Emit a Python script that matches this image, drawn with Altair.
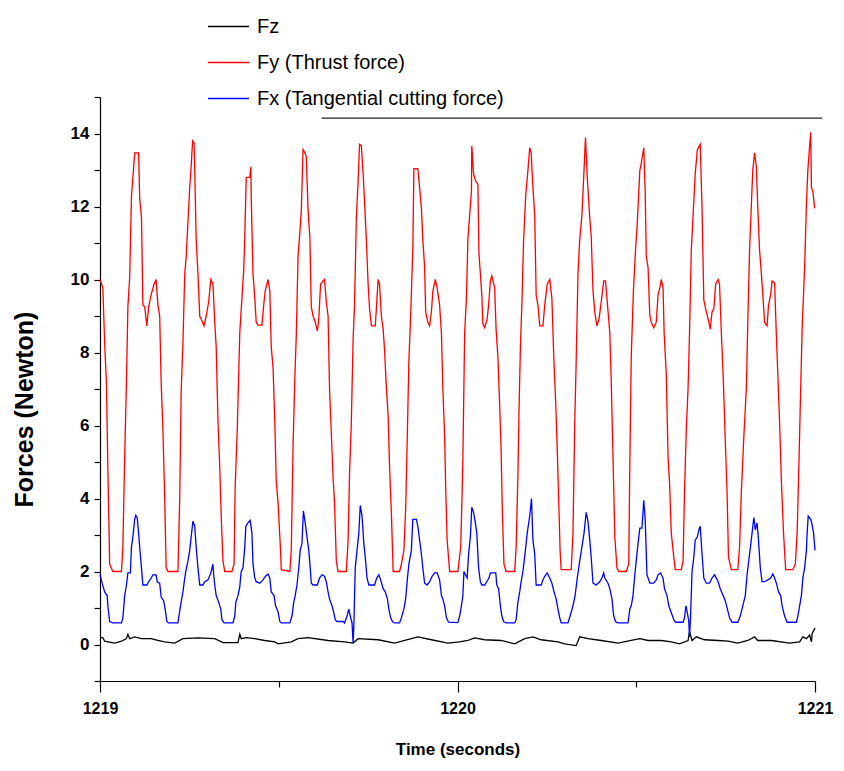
import altair as alt
import pandas as pd

# ---- data (time in ms after 1219 s, force in Newton) ----
FZ_MS = [0, 8, 13, 41, 60, 74, 78, 83, 97, 116, 143, 162, 181, 209, 232, 274, 321, 344, 386, 391, 395, 409,
         433, 461, 489, 498, 535, 554, 582, 638, 684, 708, 722, 778, 824, 871, 889, 927, 973, 1006, 1029, 1048,
         1076, 1122, 1160, 1188, 1211, 1234, 1281, 1300, 1332, 1342, 1365, 1402, 1449, 1486, 1510, 1533, 1570,
         1598, 1621, 1645, 1649, 1656, 1668, 1691, 1729, 1757, 1784, 1812, 1831, 1840, 1878, 1929, 1957, 1966,
         1976, 1985, 1990, 1992, 2000]
FZ_N = [0.19, 0.19, 0.09, 0.04, 0.09, 0.16, 0.28, 0.16, 0.21, 0.16, 0.16, 0.11, 0.07, 0.04, 0.16, 0.18, 0.16,
        0.05, 0.05, 0.28, 0.16, 0.19, 0.16, 0.11, 0.07, 0.02, 0.07, 0.16, 0.19, 0.11, 0.07, 0.04, 0.16, 0.13,
        0.04, 0.16, 0.21, 0.13, 0.04, 0.07, 0.11, 0.18, 0.13, 0.11, 0.02, 0.16, 0.21, 0.13, 0.07, 0.02, -0.03,
        0.21, 0.16, 0.11, 0.04, 0.11, 0.16, 0.11, 0.11, 0.07, 0.02, 0.11, 0.35, 0.11, 0.21, 0.13, 0.11, 0.09,
        0.04, 0.11, 0.21, 0.11, 0.11, 0.04, 0.07, 0.21, 0.16, 0.26, 0.07, 0.30, 0.45]

FY_MS = [0, 8, 13, 18, 22, 27, 36, 60, 64, 69, 74, 78, 83, 88, 92, 97, 108, 111, 116, 120, 125, 131, 136, 143,
         151, 157, 162, 167, 171, 176, 181, 185, 190, 218, 223, 227, 232, 237, 241, 246, 251, 255, 259, 263,
         265, 269, 274, 279, 285, 291, 297, 304, 310, 316, 321, 325, 330, 335, 339, 344, 349, 369, 375, 378,
         384, 391, 397, 402, 405, 409, 419, 422, 423, 428, 433, 437, 442, 453, 458, 462, 470, 475, 479, 484,
         489, 493, 498, 505, 507, 531, 535, 540, 545, 549, 554, 559, 563, 568, 573, 577, 582, 587, 591, 596,
         602, 608, 612, 617, 624, 628, 633, 638, 642, 647, 652, 656, 661, 666, 689, 694, 698, 703, 708, 712,
         717, 722, 726, 731, 736, 740, 745, 750, 754, 759, 770, 773, 778, 782, 787, 792, 796, 801, 806, 810,
         815, 820, 838, 843, 850, 855, 860, 864, 869, 873, 875, 878, 889, 894, 899, 903, 908, 911, 917, 922,
         927, 931, 938, 943, 950, 955, 959, 964, 967, 971, 978, 1001, 1009, 1013, 1015, 1020, 1025, 1029,
         1034, 1039, 1040, 1045, 1050, 1057, 1060, 1064, 1068, 1071, 1076, 1083, 1087, 1092, 1096, 1104,
         1108, 1113, 1118, 1122, 1125, 1130, 1136, 1160, 1164, 1169, 1172, 1176, 1180, 1185, 1191, 1197,
         1202, 1206, 1211, 1216, 1220, 1225, 1230, 1239, 1244, 1251, 1258, 1264, 1270, 1275, 1279, 1283,
         1287, 1290, 1318, 1323, 1328, 1332, 1337, 1342, 1348, 1353, 1358, 1363, 1370, 1374, 1379, 1384,
         1390, 1396, 1402, 1409, 1414, 1418, 1426, 1430, 1435, 1440, 1446, 1451, 1472, 1479, 1482, 1486,
         1492, 1498, 1503, 1510, 1514, 1521, 1525, 1528, 1533, 1538, 1542, 1549, 1556, 1561, 1566, 1570,
         1575, 1578, 1584, 1589, 1593, 1598, 1605, 1609, 1626, 1631, 1635, 1640, 1645, 1649, 1654, 1659,
         1665, 1671, 1679, 1684, 1689, 1694, 1701, 1707, 1712, 1717, 1722, 1729, 1733, 1738, 1743, 1749,
         1754, 1758, 1766, 1784, 1789, 1794, 1801, 1808, 1812, 1817, 1822, 1826, 1831, 1836, 1840, 1845,
         1850, 1854, 1859, 1866, 1870, 1876, 1880, 1887, 1892, 1896, 1901, 1906, 1912, 1918, 1938, 1945,
         1950, 1955, 1960, 1964, 1971, 1976, 1980, 1985, 1988, 1990, 1994, 1999]
FY_N = [10.0, 9.77, 8.26, 7.17, 4.8, 2.2, 2.0, 2.0, 2.67, 5.13, 7.2, 9.25, 10.06, 12.28, 12.8, 13.47, 13.47,
        12.23, 11.7, 9.3, 9.25, 8.73, 9.25, 9.58, 9.87, 10.0, 9.3, 9.0, 7.2, 5.9, 4.0, 2.1, 2.0, 2.0, 4.0, 6.93,
        8.26, 10.15, 10.62, 11.57, 12.52, 13.09, 13.8, 13.75, 13.0, 11.1, 10.15, 9.0, 8.87, 8.73, 9.0, 9.39,
        10.0, 9.87, 8.83, 8.16, 6.13, 4.85, 3.52, 2.29, 2.0, 2.0, 2.2, 4.28, 5.9, 8.54, 9.49, 10.25, 11.19,
        12.8, 12.8, 13.09, 12.23, 10.15, 9.49, 8.83, 8.75, 8.75, 9.3, 9.68, 10.0, 9.68, 8.16, 7.6, 6.08, 4.47,
        3.9, 2.58, 2.05, 2.0, 2.58, 5.42, 7.31, 8.45, 10.63, 11.29, 11.86, 13.56, 13.47, 13.37, 11.9, 11.15,
        9.25, 9.0, 8.83, 8.59, 8.92, 9.87, 9.96, 10.0, 9.39, 9.0, 7.03, 5.8, 4.56, 3.9, 2.29, 2.0, 2.0, 2.86,
        4.66, 6.08, 8.35, 9.3, 11.67, 12.7, 13.7, 13.66, 12.9, 12.14, 11.1, 9.87, 9.2, 8.73, 8.73, 9.2, 10.0,
        9.87, 9.0, 8.64, 8.07, 7.03, 6.27, 4.85, 3.62, 2.0, 2.0, 2.2, 2.58, 3.71, 5.89, 7.78, 9.0, 10.25,
        10.81, 13.04, 13.04, 12.52, 11.95, 11.1, 10.34, 9.11, 8.83, 8.73, 9.11, 9.68, 10.0, 9.77, 9.3, 8.54,
        7.03, 5.7, 4.28, 2.86, 2.0, 2.0, 2.67, 4.19, 5.04, 8.54, 9.49, 11.1, 11.76, 12.42, 13.66, 12.9, 12.71,
        12.61, 10.72, 10.15, 9.58, 8.78, 8.68, 8.92, 9.3, 9.96, 10.1, 9.77, 8.64, 7.88, 6.55, 5.32, 3.81, 2.2,
        2.0, 2.0, 2.67, 4.66, 6.36, 8.16, 9.3, 11.1, 12.33, 12.99, 13.61, 13.47, 12.52, 11.76, 9.58, 9.3,
        8.73, 8.73, 9.3, 9.87, 10.0, 9.49, 7.69, 6.55, 5.32, 4.0, 2.58, 2.05, 2.05, 3.05, 6.08, 7.78, 10.15,
        11.1, 11.76, 12.8, 13.89, 12.8, 11.67, 11.19, 9.68, 9.11, 8.73, 8.92, 9.39, 9.96, 9.96, 9.49, 8.54,
        7.22, 5.13, 2.95, 2.1, 2.0, 2.0, 2.2, 4.94, 7.88, 9.68, 10.81, 11.57, 12.99, 13.18, 13.61, 12.42,
        10.63, 10.34, 9.0, 8.83, 8.68, 8.83, 9.58, 9.77, 10.0, 9.77, 8.54, 7.4, 5.13, 4.47, 3.05, 2.39, 2.05,
        2.05, 2.29, 4.19, 5.89, 7.03, 8.54, 10.81, 11.76, 12.9, 13.56, 13.7, 11.95, 9.44, 9.2, 8.92, 8.64,
        9.11, 9.2, 9.87, 10.0, 9.87, 8.54, 7.4, 5.6, 4.19, 2.39, 2.05, 2.05, 2.67, 4.19, 5.7, 7.03, 8.83,
        10.81, 12.05, 12.99, 13.47, 13.09, 11.95, 10.81, 10.15, 9.58, 8.83, 8.73, 9.3, 9.58, 9.96, 9.91,
        8.45, 7.4, 6.08, 4.47, 3.05, 2.05, 2.05, 2.2, 3.05, 4.94, 7.03, 8.64, 10.34, 12.05, 12.99, 13.66,
        14.03, 12.52, 12.42, 11.95]

FX_MS = [0, 6, 13, 20, 22, 27, 36, 60, 64, 69, 74, 78, 85, 88, 92, 97, 100, 104, 108, 111, 116, 120, 131, 136,
         143, 148, 157, 160, 167, 171, 178, 183, 187, 192, 218, 223, 227, 232, 237, 241, 246, 251, 255, 260,
         265, 269, 274, 279, 288, 293, 302, 310, 316, 318, 321, 325, 332, 338, 341, 347, 372, 377, 380, 386,
         391, 395, 400, 405, 408, 414, 420, 425, 428, 433, 437, 447, 456, 463, 470, 475, 479, 487, 491, 498,
         503, 507, 531, 537, 542, 546, 551, 556, 560, 565, 569, 574, 579, 584, 588, 591, 596, 608, 614, 621,
         628, 633, 638, 642, 649, 654, 658, 663, 680, 684, 691, 696, 700, 705, 708, 710, 714, 719, 724, 728,
         733, 738, 742, 747, 752, 768, 774, 780, 785, 792, 798, 804, 808, 813, 818, 824, 838, 843, 850, 855,
         860, 864, 871, 875, 885, 889, 894, 899, 903, 908, 915, 922, 929, 936, 943, 950, 955, 959, 964, 969,
         975, 1001, 1006, 1011, 1015, 1018, 1022, 1027, 1031, 1036, 1040, 1045, 1050, 1054, 1059, 1064, 1068,
         1076, 1082, 1088, 1092, 1107, 1110, 1115, 1120, 1124, 1129, 1136, 1160, 1164, 1169, 1174, 1178,
         1183, 1190, 1195, 1202, 1207, 1211, 1216, 1220, 1234, 1239, 1244, 1251, 1258, 1264, 1270, 1276,
         1281, 1286, 1290, 1309, 1315, 1323, 1329, 1335, 1342, 1348, 1354, 1360, 1365, 1370, 1374, 1379,
         1388, 1398, 1404, 1409, 1412, 1421, 1426, 1432, 1437, 1442, 1449, 1477, 1482, 1486, 1491, 1496,
         1500, 1505, 1510, 1516, 1521, 1525, 1530, 1538, 1549, 1556, 1561, 1568, 1575, 1579, 1586, 1591,
         1598, 1605, 1610, 1631, 1635, 1639, 1643, 1647, 1649, 1652, 1656, 1661, 1665, 1671, 1675, 1679,
         1684, 1689, 1696, 1705, 1712, 1719, 1724, 1729, 1735, 1743, 1749, 1755, 1761, 1768, 1784, 1791,
         1798, 1805, 1810, 1817, 1824, 1826, 1829, 1833, 1838, 1842, 1847, 1852, 1859, 1868, 1876, 1882,
         1887, 1892, 1898, 1904, 1908, 1915, 1922, 1948, 1952, 1957, 1962, 1966, 1971, 1976, 1978, 1981,
         1988, 1991, 1996, 2000]
FX_N = [1.91, 1.68, 1.44, 1.34, 1.06, 0.63, 0.59, 0.59, 0.73, 1.34, 1.63, 1.96, 1.96, 2.67, 2.95, 3.43, 3.54,
        3.48, 3.05, 2.67, 2.1, 1.63, 1.63, 1.72, 1.82, 1.91, 1.91, 1.72, 1.68, 1.3, 1.2, 0.92, 0.63, 0.59,
        0.59, 0.92, 1.16, 1.44, 1.82, 2.05, 2.29, 2.58, 2.95, 3.38, 3.24, 2.67, 2.1, 1.63, 1.63, 1.72, 1.77,
        1.96, 2.2, 1.91, 1.63, 1.34, 1.16, 0.97, 0.68, 0.59, 0.59, 0.78, 1.16, 1.34, 1.58, 2.0, 2.1, 2.67,
        3.24, 3.33, 3.4, 3.05, 2.2, 1.82, 1.72, 1.68, 1.77, 1.87, 1.93, 1.82, 1.44, 1.34, 1.06, 0.9, 0.63,
        0.59, 0.59, 0.78, 1.16, 1.34, 1.63, 2.1, 2.58, 2.77, 3.66, 3.33, 2.95, 2.58, 2.1, 1.68, 1.63, 1.63,
        1.82, 1.91, 1.87, 1.72, 1.44, 1.25, 1.06, 0.87, 0.68, 0.63, 0.63, 0.59, 0.78, 0.97, 0.78, 0.59, 0.04,
        0.49, 2.1, 2.58, 3.05, 3.81, 3.52, 2.77, 2.39, 1.82, 1.63, 1.63, 1.82, 1.91, 1.77, 1.53, 1.44, 1.25,
        0.97, 0.73, 0.63, 0.59, 0.59, 0.73, 0.97, 1.25, 1.82, 2.2, 2.58, 3.43, 3.43, 3.24, 2.86, 2.48, 2.1,
        1.68, 1.63, 1.72, 1.87, 1.96, 1.96, 1.77, 1.34, 1.25, 1.06, 0.73, 0.61, 0.6, 0.78, 1.06, 1.34, 2.0,
        1.91, 1.82, 2.48, 2.95, 3.76, 3.62, 3.33, 3.05, 2.1, 1.72, 1.63, 1.63, 1.72, 1.82, 1.96, 1.96, 1.63,
        1.53, 1.06, 0.78, 0.63, 0.59, 0.59, 0.68, 1.16, 1.44, 1.72, 2.0, 2.58, 3.05, 3.52, 4.0, 2.86, 2.48,
        1.63, 1.63, 1.77, 1.87, 1.96, 1.82, 1.68, 1.44, 1.25, 0.97, 0.73, 0.59, 0.59, 0.78, 1.06, 1.34, 1.82,
        2.29, 2.67, 3.05, 3.62, 3.38, 2.86, 2.39, 1.68, 1.63, 1.72, 1.82, 1.96, 1.82, 1.68, 1.53, 1.25, 0.78,
        0.63, 0.59, 0.59, 0.97, 1.06, 1.34, 1.91, 2.29, 2.77, 3.19, 3.19, 3.95, 3.43, 1.91, 1.68, 1.68, 1.77,
        1.91, 1.96, 1.82, 1.53, 1.34, 1.06, 0.87, 0.68, 0.61, 0.61, 0.73, 1.06, 0.87, 0.63, 0.21, 0.78, 2.0,
        2.39, 2.86, 2.95, 3.14, 3.24, 2.48, 1.82, 1.68, 1.68, 1.82, 1.91, 1.82, 1.72, 1.53, 1.34, 1.2, 0.97,
        0.73, 0.61, 0.61, 0.78, 1.06, 1.34, 1.91, 2.48, 3.05, 3.24, 3.48, 3.14, 3.33, 2.86, 2.1, 1.72, 1.72,
        1.77, 1.82, 1.93, 1.82, 1.68, 1.44, 1.34, 1.06, 0.78, 0.61, 0.61, 0.78, 1.06, 1.34, 1.82, 2.1, 2.58,
        3.05, 3.52, 3.43, 3.33, 3.05, 2.58]

SERIES = ["Fz", "Fy (Thrust force)", "Fx (Tangential cutting force)"]
COLORS = ["#000000", "#ff0000", "#0000ff"]
T0 = 1219

X_TICKS = [1219, 1219.5, 1220, 1220.5, 1221]
Y_TICKS = list(range(-1, 16))

# decorative underline below the legend (data units)
UNDER_X = [1219.62, 1221.02]
UNDER_Y = 14.42

rows = []
for name, ms, vals in [(SERIES[0], FZ_MS, FZ_N), (SERIES[1], FY_MS, FY_N), (SERIES[2], FX_MS, FX_N)]:
    for m, v in zip(ms, vals):
        rows.append({"time": T0 + m / 1000.0, "force": v, "series": name})
df = pd.DataFrame(rows)

NUM_FONT = "Liberation Sans"
LEG_FONT = "Liberation Sans"

xscale = alt.Scale(domain=[1219, 1221], nice=False, zero=False)
yscale = alt.Scale(domain=[-1, 15], nice=False, zero=False)

x_axis = alt.Axis(values=X_TICKS,
                  tickSize={"condition": {"test": "datum.value % 1 != 0", "value": 6}, "value": 11},
                  labelExpr="datum.value % 1 == 0 ? format(datum.value, 'd') : ''",
                  labelPadding=8,
                  title="Time (seconds)", titleFontSize=17, titleFont=NUM_FONT,
                  titleFontWeight="bold", titleY=60, titleBaseline="top",
                  labelFont=NUM_FONT, labelFontSize=16, labelFontWeight="bold",
                  labelColor="black", titleColor="black", domainColor="black",
                  tickColor="black", grid=False, orient="bottom", labelFlush=False,
                  labelOverlap=False)
y_axis = alt.Axis(values=Y_TICKS, tickSize=6, labelPadding=5,
                  labelExpr="(datum.value % 2 == 0 && datum.value >= 0 && datum.value <= 14) ? datum.label : ''",
                  title="Forces (Newton)", titleFontSize=25, titleFont=NUM_FONT,
                  titleFontWeight="bold", titleX=-63, titleY=312,
                  labelFont=NUM_FONT, labelFontSize=17, labelFontWeight="bold",
                  labelColor="black", titleColor="black", domainColor="black",
                  tickColor="black", grid=False, labelFlush=False, labelOverlap=False)

lines = alt.Chart(df).mark_line(strokeWidth=1.3, clip=False).encode(
    x=alt.X("time:Q", scale=xscale, axis=x_axis),
    y=alt.Y("force:Q", scale=yscale, axis=y_axis),
    color=alt.Color("series:N", scale=alt.Scale(domain=SERIES, range=COLORS), title=None,
                    legend=alt.Legend(orient="none", legendX=107, legendY=-92, symbolType="stroke",
                                      symbolSize=1681, symbolStrokeWidth=1.3, labelFont=LEG_FONT,
                                      labelFontSize=20, labelOffset=7, labelLimit=500, rowPadding=4,
                                      padding=0, labelColor="black")),
    order=alt.Order("time:Q"),
)

under = alt.Chart(pd.DataFrame({"time": [UNDER_X[0]], "time2": [UNDER_X[1]], "force": [UNDER_Y]})).mark_rule(
    color="#222222", strokeWidth=1.3, clip=False
).encode(
    x=alt.X("time:Q", scale=xscale, axis=x_axis),
    x2="time2:Q",
    y=alt.Y("force:Q", scale=yscale, axis=y_axis),
)

chart = alt.layer(lines, under).properties(
    width=715, height=584,
    autosize=alt.AutoSizeParams(type="none"),
    padding={"left": 92, "top": 89, "right": 21, "bottom": 82},
).configure_view(stroke=None).configure_axis(domainWidth=1.2, tickWidth=1.2)

chart.save("out.html", embed_options={"renderer": "svg", "actions": False})
